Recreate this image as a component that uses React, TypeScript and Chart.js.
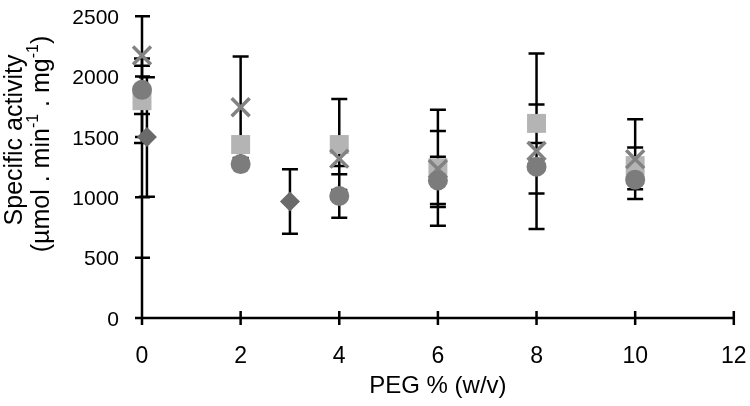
import React, { useEffect, useRef } from "react";
import { Chart, registerables } from "chart.js";

Chart.register(...registerables);

// ---- data ----
const xTicks = [0, 2, 4, 6, 8, 10, 12];
const yTicks = [0, 500, 1000, 1500, 2000, 2500];

const diamondX = [0.1, 3];
const diamondY = [1500, 965];
const diamondErr = [495, 268];

const squareX = [0, 2, 4, 6, 8, 10];
const squareY = [1800, 1437, 1437, 1245, 1612, 1262];
const squareErr = [350, 0, 377, 480, 580, 150];

const crossX = [0, 2, 4, 6, 8, 10];
const crossY = [2175, 1746, 1320, 1235, 1383, 1316];
const crossErr = [0, 420, 60, 315, 67, 330];

const circleX = [0, 2, 4, 6, 8, 10];
const circleY = [1890, 1275, 1011, 1140, 1253, 1146];
const circleErr = [200, 0, 180, 195, 515, 80];

const xTitle = "PEG % (w/v)";
const yTitle1 = "Specific activity";

const FONT = '"Liberation Sans", Arial, sans-serif';

const pts = (xs: number[], ys: number[]) => xs.map((x, i) => ({ x, y: ys[i] }));

export default function App() {
  const ref = useRef<HTMLCanvasElement | null>(null);

  useEffect(() => {
    const canvas = ref.current;
    if (!canvas) return;
    const errLists = [diamondErr, squareErr, crossErr, circleErr];

    const customPlugin = {
      id: "customAxes",
      beforeDatasetsDraw(chart: any) {
        const { ctx, scales } = chart;
        const xs = scales.x;
        const ys = scales.y;
        const x0 = xs.getPixelForValue(0);
        const y0 = ys.getPixelForValue(0);
        ctx.save();
        ctx.strokeStyle = "#000";
        ctx.lineWidth = 2.5;
        ctx.beginPath();
        ctx.moveTo(x0, ys.getPixelForValue(2500));
        ctx.lineTo(x0, y0);
        ctx.moveTo(x0, y0);
        ctx.lineTo(xs.getPixelForValue(12), y0);
        yTicks.forEach((v) => {
          const p = ys.getPixelForValue(v);
          ctx.moveTo(x0 - 7, p);
          ctx.lineTo(x0 + 8, p);
        });
        xTicks.forEach((v) => {
          const p = xs.getPixelForValue(v);
          ctx.moveTo(p, y0 - 7);
          ctx.lineTo(p, y0 + 7);
        });
        ctx.stroke();

        // error bars
        ctx.lineWidth = 2.5;
        ctx.beginPath();
        chart.data.datasets.forEach((ds: any, i: number) => {
          const errs = errLists[i];
          ds.data.forEach((pt: any, j: number) => {
            const e = errs[j];
            if (!e) return;
            const px = xs.getPixelForValue(pt.x);
            const top = ys.getPixelForValue(pt.y + e);
            const bot = ys.getPixelForValue(pt.y - e);
            ctx.moveTo(px, top);
            ctx.lineTo(px, bot);
            ctx.moveTo(px - 8, top);
            ctx.lineTo(px + 8, top);
            ctx.moveTo(px - 8, bot);
            ctx.lineTo(px + 8, bot);
          });
        });
        ctx.stroke();
        ctx.restore();
      },
      afterDraw(chart: any) {
        const { ctx, scales } = chart;
        const xs = scales.x;
        const ys = scales.y;
        const x0 = xs.getPixelForValue(0);
        const y0 = ys.getPixelForValue(0);
        ctx.save();
        ctx.fillStyle = "#000";
        // y tick labels
        ctx.font = `21px ${FONT}`;
        ctx.textAlign = "right";
        ctx.textBaseline = "middle";
        yTicks.forEach((v) => {
          ctx.fillText(String(v), x0 - 23, ys.getPixelForValue(v) + 2);
        });
        // x tick labels
        ctx.font = `23px ${FONT}`;
        ctx.textAlign = "center";
        xTicks.forEach((v) => {
          ctx.fillText(String(v), xs.getPixelForValue(v), y0 + 39);
        });
        // x title
        ctx.font = `24px ${FONT}`;
        ctx.fillText(xTitle, (xs.left + xs.right) / 2, y0 + 68);

        // y title (two lines, rotated)
        const size = 25;
        ctx.save();
        ctx.translate(15, 140);
        ctx.rotate(-Math.PI / 2);
        ctx.font = `${size}px ${FONT}`;
        ctx.textAlign = "center";
        ctx.fillText(yTitle1, 0, 0);
        ctx.restore();

        const segs: [string, boolean][] = [
          ["(\u00B5mol . min", false],
          ["-1", true],
          [" . mg", false],
          ["-1", true],
          [")", false],
        ];
        const supSize = Math.round(size * 0.62);
        let total = 0;
        segs.forEach(([t, sup]) => {
          ctx.font = `${sup ? supSize : size}px ${FONT}`;
          total += ctx.measureText(t).width;
        });
        ctx.save();
        ctx.translate(42, 144);
        ctx.rotate(-Math.PI / 2);
        ctx.textAlign = "left";
        ctx.textBaseline = "middle";
        let xpos = -total / 2;
        segs.forEach(([t, sup]) => {
          ctx.font = `${sup ? supSize : size}px ${FONT}`;
          ctx.fillText(t, xpos, sup ? -size * 0.32 : 0);
          xpos += ctx.measureText(t).width;
        });
        ctx.restore();
        ctx.restore();
      },
    };

    const chart = new Chart(canvas, {
      type: "scatter",
      data: {
        datasets: [
          {
            label: "diamond",
            data: pts(diamondX, diamondY),
            pointStyle: "rectRot",
            pointRadius: 10,
            backgroundColor: "#6a6a6a",
            borderColor: "#6a6a6a",
            borderWidth: 0,
            clip: false,
            order: 4,
          },
          {
            label: "square",
            data: pts(squareX, squareY),
            pointStyle: "rect",
            pointRadius: 13.4,
            backgroundColor: "#b4b4b4",
            borderColor: "#b4b4b4",
            borderWidth: 0,
            clip: false,
            order: 3,
          },
          {
            label: "cross",
            data: pts(crossX, crossY),
            pointStyle: "crossRot",
            pointRadius: 12.7,
            backgroundColor: "#828282",
            borderColor: "#828282",
            borderWidth: 3.5,
            clip: false,
            order: 2,
          },
          {
            label: "circle",
            data: pts(circleX, circleY),
            pointStyle: "circle",
            pointRadius: 10,
            backgroundColor: "#7c7c7c",
            borderColor: "#7c7c7c",
            borderWidth: 0,
            clip: false,
            order: 1,
          },
        ] as any,
      },
      options: {
        animation: false,
        responsive: false,
        maintainAspectRatio: false,
        layout: { padding: { top: 8, right: 13, left: 0, bottom: 0 } },
        plugins: {
          legend: { display: false },
          tooltip: { enabled: false },
        },
        scales: {
          x: {
            type: "linear",
            min: 0,
            max: 12,
            ticks: { display: false, stepSize: 2 },
            grid: { display: false },
            border: { display: false },
            afterFit: (s: any) => {
              s.height = 88;
            },
          },
          y: {
            type: "linear",
            min: 0,
            max: 2500,
            ticks: { display: false, stepSize: 500 },
            grid: { display: false },
            border: { display: false },
            afterFit: (s: any) => {
              s.width = 142;
            },
          },
        },
      } as any,
      plugins: [customPlugin],
    });
    return () => chart.destroy();
  }, []);

  return (
    <div style={{ position: "fixed", left: 0, top: 0, width: 750, height: 406, background: "#fff" }}>
      <canvas ref={ref} width={750} height={406} style={{ width: 750, height: 406, display: "block" }} />
    </div>
  );
}
